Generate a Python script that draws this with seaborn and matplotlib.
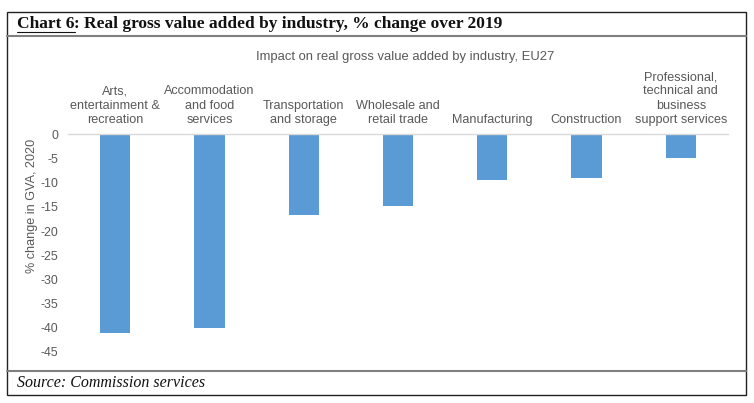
import matplotlib
matplotlib.use("Agg")
import matplotlib.pyplot as plt
import seaborn as sns
import pandas as pd
from matplotlib.lines import Line2D
from matplotlib.patches import Rectangle

categories = [
    "Arts,\nentertainment &\nrecreation",
    "Accommodation\nand food\nservices",
    "Transportation\nand storage",
    "Wholesale and\nretail trade",
    "Manufacturing",
    "Construction",
    "Professional,\ntechnical and\nbusiness\nsupport services",
]
values = [-41.0, -40.0, -16.7, -14.8, -9.4, -9.0, -5.0]
yticks = [0, -5, -10, -15, -20, -25, -30, -35, -40, -45]

sns.set_theme(style="white")
plt.rcParams["font.family"] = ["Liberation Sans", "DejaVu Sans"]

W, H = 754, 403
fig = plt.figure(figsize=(W / 100, H / 100), dpi=100)

def fx(x):
    return x / W

def fy(y):
    return 1 - y / H

ax = fig.add_axes([fx(68), fy(352), fx(728) - fx(68), fy(134.3) - fy(352)])
df = pd.DataFrame({"cat": categories, "val": values})
sns.barplot(data=df, x="cat", y="val", color="#5B9BD5", saturation=1,
            width=0.32, ax=ax, edgecolor="none")

ax.set_ylim(-45, 0)
ax.set_yticks(yticks)
ax.set_yticklabels([str(v) for v in yticks])
ax.xaxis.tick_top()
ax.set_xlabel("")
ax.set_ylabel("")
ax.tick_params(axis="x", length=0, pad=6, labelsize=9.1, colors="#595959")
ax.tick_params(axis="y", length=0, pad=7, labelsize=8.9, colors="#595959")
for lbl in ax.get_xticklabels():
    lbl.set_linespacing(1.25)
for s in ["left", "right", "bottom"]:
    ax.spines[s].set_visible(False)
ax.spines["top"].set_color("#D9D9D9")
ax.spines["top"].set_linewidth(1.0)

fig.text(fx(32), fy(206), "% change in GVA, 2020", rotation=90, ha="center",
         va="center", fontsize=9.1, color="#595959")
fig.text(fx(405), fy(57), "Impact on real gross value added by industry, EU27",
         ha="center", va="center", fontsize=9.4, color="#595959")

# frame
fig.add_artist(Rectangle((fx(7), fy(395)), fx(746) - fx(7), fy(12) - fy(395),
                         transform=fig.transFigure, fill=False,
                         edgecolor="#222222", linewidth=1.0))
fig.add_artist(Line2D([fx(7), fx(746)], [fy(36), fy(36)], transform=fig.transFigure,
                      color="#808080", linewidth=1.5))
fig.add_artist(Line2D([fx(7), fx(746)], [fy(371), fy(371)], transform=fig.transFigure,
                      color="#808080", linewidth=1.5))

serif = ["Liberation Serif", "DejaVu Serif"]
t1 = fig.text(fx(17), fy(24), "Chart 6", ha="left", va="center", fontsize=12.5,
              family=serif, fontweight="bold", color="#111111")
fig.canvas.draw()
r = fig.canvas.get_renderer()
bb = t1.get_window_extent(r)
fig.add_artist(Line2D([bb.x0 / W, bb.x1 / W], [fy(32), fy(32)],
                      transform=fig.transFigure, color="#111111", linewidth=0.8))
fig.text(bb.x1 / W, fy(24), ": Real gross value added by industry, % change over 2019",
         ha="left", va="center", fontsize=12.5, family=serif, fontweight="bold",
         color="#111111")
fig.text(fx(17), fy(383), "Source: Commission services", ha="left", va="center",
         fontsize=11.5, family=serif, style="italic", color="#111111")

fig.savefig("out.png", dpi=100)
